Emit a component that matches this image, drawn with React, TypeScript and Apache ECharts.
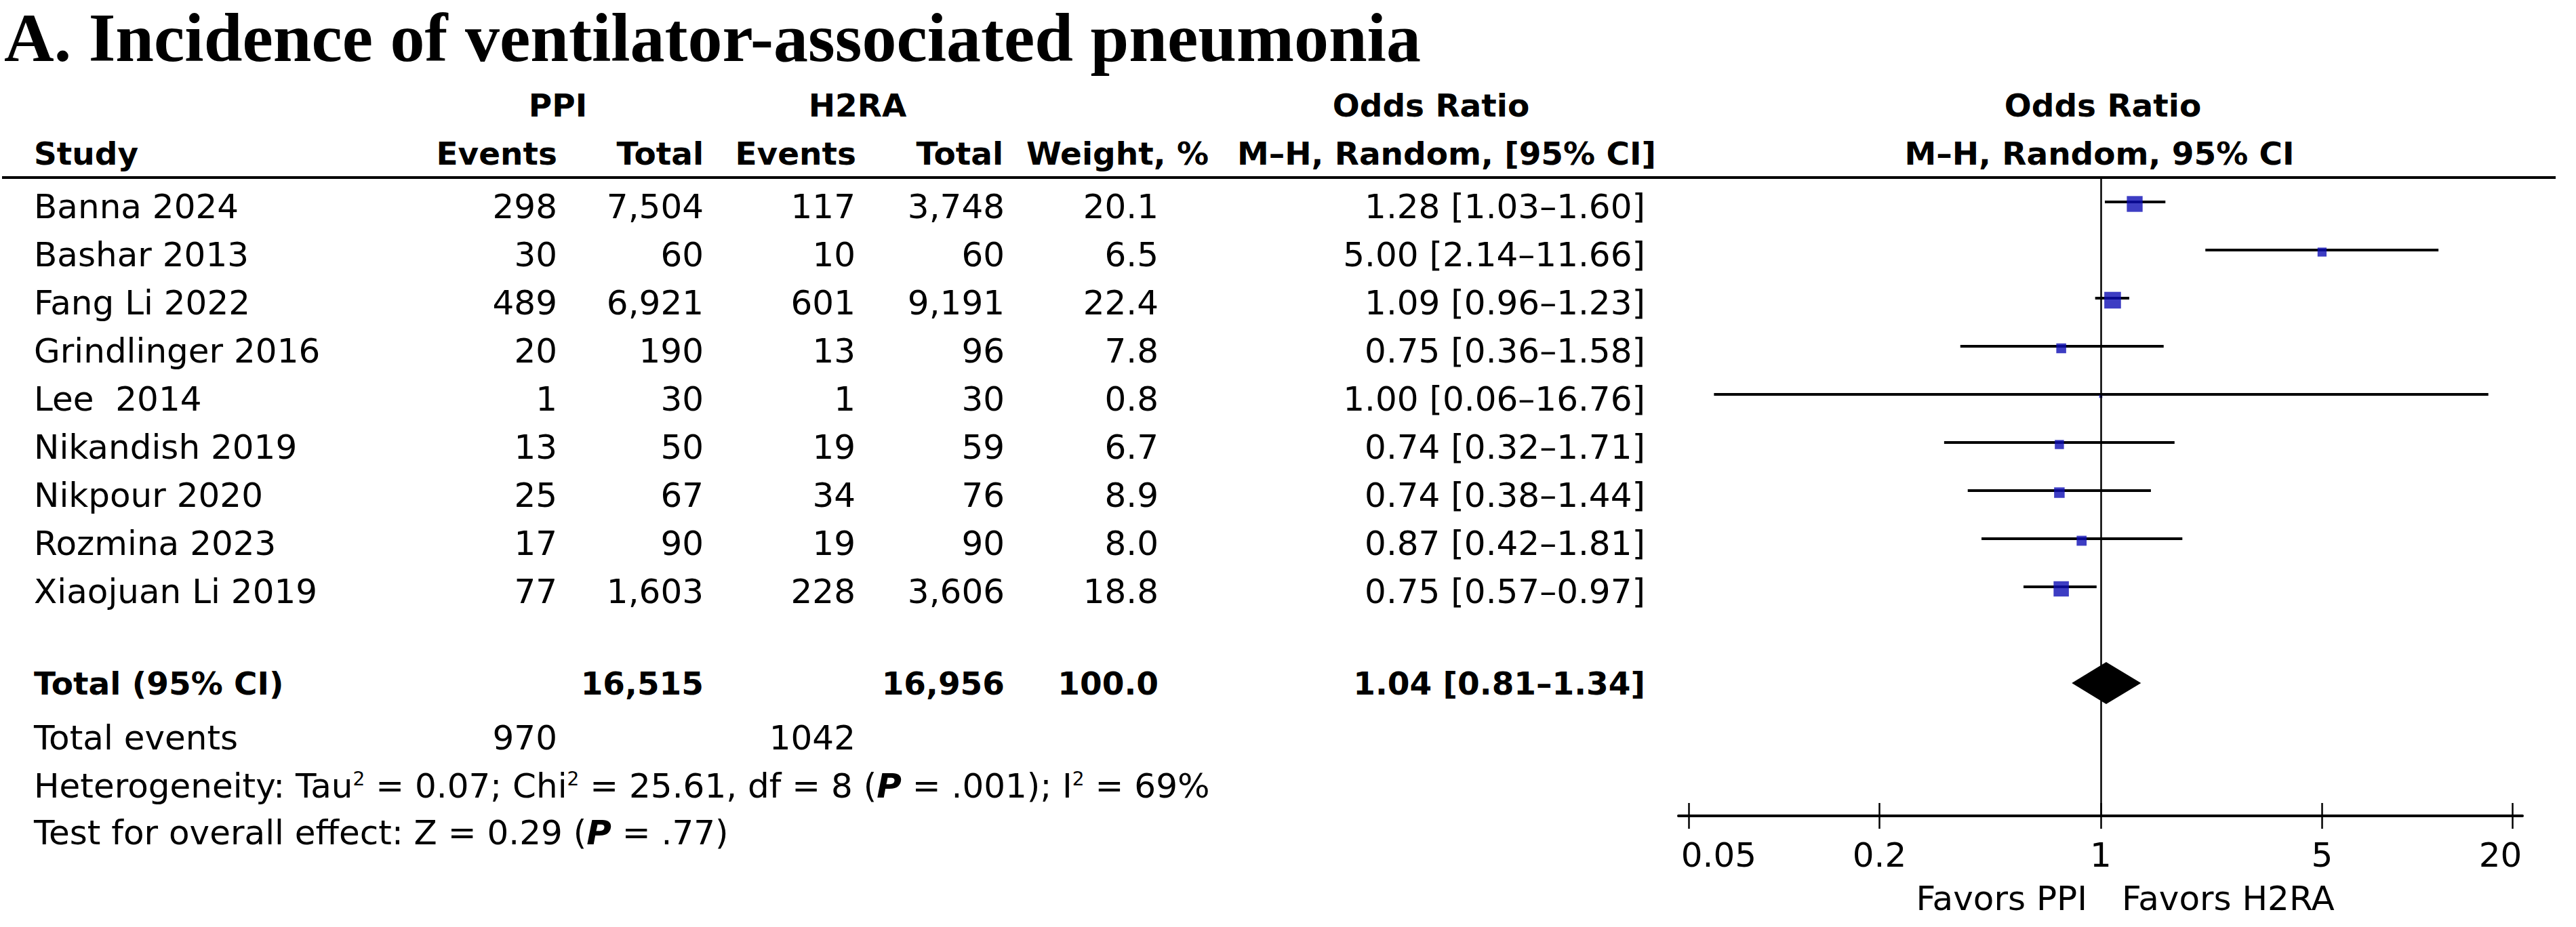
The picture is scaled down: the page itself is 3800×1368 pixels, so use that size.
import React, { useEffect, useRef } from 'react';
import * as echarts from 'echarts';

// ---------------- data ----------------
const studies = ['Banna 2024', 'Bashar 2013', 'Fang Li 2022', 'Grindlinger 2016', 'Lee  2014', 'Nikandish 2019', 'Nikpour 2020', 'Rozmina 2023', 'Xiaojuan Li 2019'];
const ppiEvents = [298, 30, 489, 20, 1, 13, 25, 17, 77];
const ppiTotal = [7504, 60, 6921, 190, 30, 50, 67, 90, 1603];
const h2raEvents = [117, 10, 601, 13, 1, 19, 34, 19, 228];
const h2raTotal = [3748, 60, 9191, 96, 30, 59, 76, 90, 3606];
const weights = [20.1, 6.5, 22.4, 7.8, 0.8, 6.7, 8.9, 8.0, 18.8];
const oddsRatio = [1.28, 5.0, 1.09, 0.75, 1.0, 0.74, 0.74, 0.87, 0.75];
const ciLow = [1.03, 2.14, 0.96, 0.36, 0.06, 0.32, 0.38, 0.42, 0.57];
const ciHigh = [1.6, 11.66, 1.23, 1.58, 16.76, 1.71, 1.44, 1.81, 0.97];

const pooledOR = [1.04];
const pooledLow = [0.81];
const pooledHigh = [1.34];
const totalParticipants = [16515, 16956];
const totalEvents = [970, 1042];
const totalWeight = [100.0];

const tickValues = [0.05, 0.2, 1, 5, 20];
const tickLabels = ['0.05', '0.2', '1', '5', '20'];

const heterogeneity = { tau2: '0.07', chi2: '25.61', df: '8', p: '.001', i2: '69%' };
const overall = { z: '0.29', p: '.77' };

// ---------------- layout ----------------
const FONT = '"DejaVu Sans", Verdana, sans-serif';
const REG = 50;
const BOLD = 47;
const ROW0 = 305;
const ROWH = 71;
const COL = { study: 50, ppiE: 822, ppiT: 1038, h2E: 1262, h2T: 1482, w: 1709, or: 2427 };
const AXIS_Y = 1204;
const GRID_TOP = 262.5;

const fmt = (n: number) => n.toLocaleString('en-US');
const orText = (o: number, l: number, h: number) => `${o.toFixed(2)} [${l.toFixed(2)}\u2013${h.toFixed(2)}]`;
const lg = (v: number) => Math.log10(v);

function txt(text: string, x: number, y: number, align: string, bold = false, size?: number, extra: any = {}) {
  return {
    type: 'text',
    x,
    y,
    silent: true,
    style: {
      text,
      fill: '#000',
      fontFamily: FONT,
      fontSize: size ?? (bold ? BOLD : REG),
      fontWeight: bold ? 'bold' : 'normal',
      align,
      verticalAlign: 'middle',
      ...extra,
    },
  };
}

export default function App() {
  const ref = useRef<HTMLDivElement>(null);

  useEffect(() => {
    if (!ref.current) return;
    const chart = echarts.init(ref.current, undefined, { renderer: 'svg' });

    const graphics: any[] = [];
    // title
    graphics.push({
      type: 'text', x: 6, y: 55, silent: true,
      style: { text: 'A. Incidence of ventilator-associated pneumonia', fill: '#000', fontFamily: '"Liberation Serif", "Times New Roman", serif', fontSize: 102, fontWeight: 'bold', align: 'left', verticalAlign: 'middle' },
    });
    // header row 1
    graphics.push(txt('PPI', 823, 155, 'center', true));
    graphics.push(txt('H2RA', 1265, 155, 'center', true));
    graphics.push(txt('Odds Ratio', 2111, 155, 'center', true));
    graphics.push(txt('Odds Ratio', 3102, 155, 'center', true));
    // header row 2
    graphics.push(txt('Study', 50, 226, 'left', true));
    graphics.push(txt('Events', 822, 226, 'right', true));
    graphics.push(txt('Total', 1038, 226, 'right', true));
    graphics.push(txt('Events', 1263, 226, 'right', true));
    graphics.push(txt('Total', 1480, 226, 'right', true));
    graphics.push(txt('Weight, %', 1783, 226, 'right', true));
    graphics.push(txt('M\u2013H, Random, [95% CI]', 2443, 226, 'right', true));
    graphics.push(txt('M\u2013H, Random, 95% CI', 3097, 226, 'center', true));
    // header rule
    graphics.push({ type: 'line', silent: true, shape: { x1: 3, y1: 262, x2: 3770, y2: 262 }, style: { stroke: '#000', lineWidth: 4 } });

    // study rows
    studies.forEach((s, i) => {
      const y = ROW0 + ROWH * i;
      graphics.push(txt(s, COL.study, y, 'left'));
      graphics.push(txt(fmt(ppiEvents[i]), COL.ppiE, y, 'right'));
      graphics.push(txt(fmt(ppiTotal[i]), COL.ppiT, y, 'right'));
      graphics.push(txt(fmt(h2raEvents[i]), COL.h2E, y, 'right'));
      graphics.push(txt(fmt(h2raTotal[i]), COL.h2T, y, 'right'));
      graphics.push(txt(weights[i].toFixed(1), COL.w, y, 'right'));
      graphics.push(txt(orText(oddsRatio[i], ciLow[i], ciHigh[i]), COL.or, y, 'right'));
    });

    // totals
    const yT = 1008;
    graphics.push(txt('Total (95% CI)', COL.study, yT, 'left', true));
    graphics.push(txt(fmt(totalParticipants[0]), COL.ppiT, yT, 'right', true));
    graphics.push(txt(fmt(totalParticipants[1]), COL.h2T, yT, 'right', true));
    graphics.push(txt(totalWeight[0].toFixed(1), COL.w, yT, 'right', true));
    graphics.push(txt(orText(pooledOR[0], pooledLow[0], pooledHigh[0]), COL.or, yT, 'right', true));

    const yE = 1089;
    graphics.push(txt('Total events', COL.study, yE, 'left'));
    graphics.push(txt(String(totalEvents[0]), COL.ppiE, yE, 'right'));
    graphics.push(txt(String(totalEvents[1]), COL.h2E, yE, 'right'));

    const rich = {
      sup: { fontSize: 28, fontFamily: FONT, fill: '#000', verticalAlign: 'top', lineHeight: 50 },
      bi: { fontSize: REG, fontFamily: FONT, fontWeight: 'bold', fontStyle: 'italic', fill: '#000' },
    };
    graphics.push(txt(
      `Heterogeneity: Tau{sup|2} = ${heterogeneity.tau2}; Chi{sup|2} = ${heterogeneity.chi2}, df = ${heterogeneity.df} ({bi|P} = ${heterogeneity.p}); I{sup|2} = ${heterogeneity.i2}`,
      COL.study, 1160, 'left', false, REG, { rich }));
    graphics.push(txt(
      `Test for overall effect: Z = ${overall.z} ({bi|P} = ${overall.p})`,
      COL.study, 1229, 'left', false, REG, { rich }));

    // favours labels
    graphics.push(txt('Favors PPI', 3079, 1326, 'right'));
    graphics.push(txt('Favors H2RA', 3130, 1326, 'left'));

    const tickLog = tickValues.map(lg);
    const labelFor = (v: number) => {
      const i = tickLog.findIndex((t) => Math.abs(t - v) < 1e-6);
      if (i < 0) return '';
      if (i === 0) return `{first|${tickLabels[i]}}`;
      if (i === tickLabels.length - 1) return `{last|${tickLabels[i]}}`;
      return `{mid|${tickLabels[i]}}`;
    };
    const lblStyle = { fontSize: REG, fontFamily: FONT, color: '#000' };

    const option: any = {
      animation: false,
      backgroundColor: '#fff',
      grid: { left: 2476, width: 1245, top: GRID_TOP, height: AXIS_Y - GRID_TOP, containLabel: false },
      xAxis: [
        {
          type: 'value', min: -1.334, max: 1.332, position: 'bottom', offset: 0,
          axisLine: { show: true, onZero: false, lineStyle: { color: '#000', width: 4 } },
          axisTick: { show: true, customValues: tickLog, length: 19, inside: false, lineStyle: { color: '#000', width: 2.5 } },
          axisLabel: {
            show: true, customValues: tickLog, margin: 33, formatter: labelFor,
            rich: {
              first: { ...lblStyle, padding: [0, 0, 0, 88] },
              last: { ...lblStyle, padding: [0, 36, 0, 0] },
              mid: { ...lblStyle },
            },
          },
          splitLine: { show: false },
        },
        {
          type: 'value', min: -1.334, max: 1.332, position: 'bottom', offset: 0,
          axisLine: { show: false, onZero: false },
          axisTick: { show: true, customValues: tickLog, length: 19, inside: true, lineStyle: { color: '#000', width: 2.5 } },
          axisLabel: { show: false },
          splitLine: { show: false },
        },
      ],
      yAxis: { type: 'value', inverse: true, min: -0.5, max: -0.5 + (AXIS_Y - GRID_TOP) / ROWH, show: false },
      series: [
        {
          type: 'custom',
          name: 'CI',
          xAxisIndex: 0,
          silent: true,
          z: 2,
          data: studies.map((_, i) => [lg(ciLow[i]), lg(ciHigh[i]), i]),
          encode: { x: [0, 1], y: 2 },
          renderItem: (params: any, api: any) => {
            const a = api.coord([api.value(0), api.value(2)]);
            const b = api.coord([api.value(1), api.value(2)]);
            return { type: 'line', shape: { x1: a[0], y1: a[1], x2: b[0], y2: b[1] }, style: { stroke: '#000', lineWidth: 4 } };
          },
        },
        {
          type: 'scatter',
          name: 'OR',
          xAxisIndex: 0,
          silent: true,
          z: 3,
          symbol: 'rect',
          symbolOffset: [0, 3],
          symbolSize: (v: number[]) => 5.2 * Math.sqrt(v[2]),
          itemStyle: { color: '#0c0cb4' },
          data: studies.map((_, i) => [lg(oddsRatio[i]), i, weights[i]]),
          markLine: {
            silent: true,
            symbol: 'none',
            label: { show: false },
            lineStyle: { color: '#000', width: 2.5, type: 'solid' },
            data: [{ xAxis: 0 }],
          },
        },
        {
          type: 'custom',
          name: 'Pooled',
          xAxisIndex: 0,
          silent: true,
          z: 4,
          data: [[lg(pooledLow[0]), lg(pooledOR[0]), lg(pooledHigh[0]), 10]],
          encode: { x: [0, 1, 2], y: 3 },
          renderItem: (params: any, api: any) => {
            const l = api.coord([api.value(0), api.value(3)]);
            const m = api.coord([api.value(1), api.value(3)]);
            const h = api.coord([api.value(2), api.value(3)]);
            const hh = 31;
            return {
              type: 'polygon',
              shape: { points: [[l[0], l[1]], [m[0], m[1] - hh], [h[0], h[1]], [m[0], m[1] + hh]] },
              style: { fill: '#000' },
            };
          },
        },
      ],
      graphic: graphics,
    };

    chart.setOption(option);
    return () => chart.dispose();
  }, []);

  return <div ref={ref} style={{ position: 'absolute', left: 0, top: 0, width: 3800, height: 1368, background: '#fff' }} />;
}
